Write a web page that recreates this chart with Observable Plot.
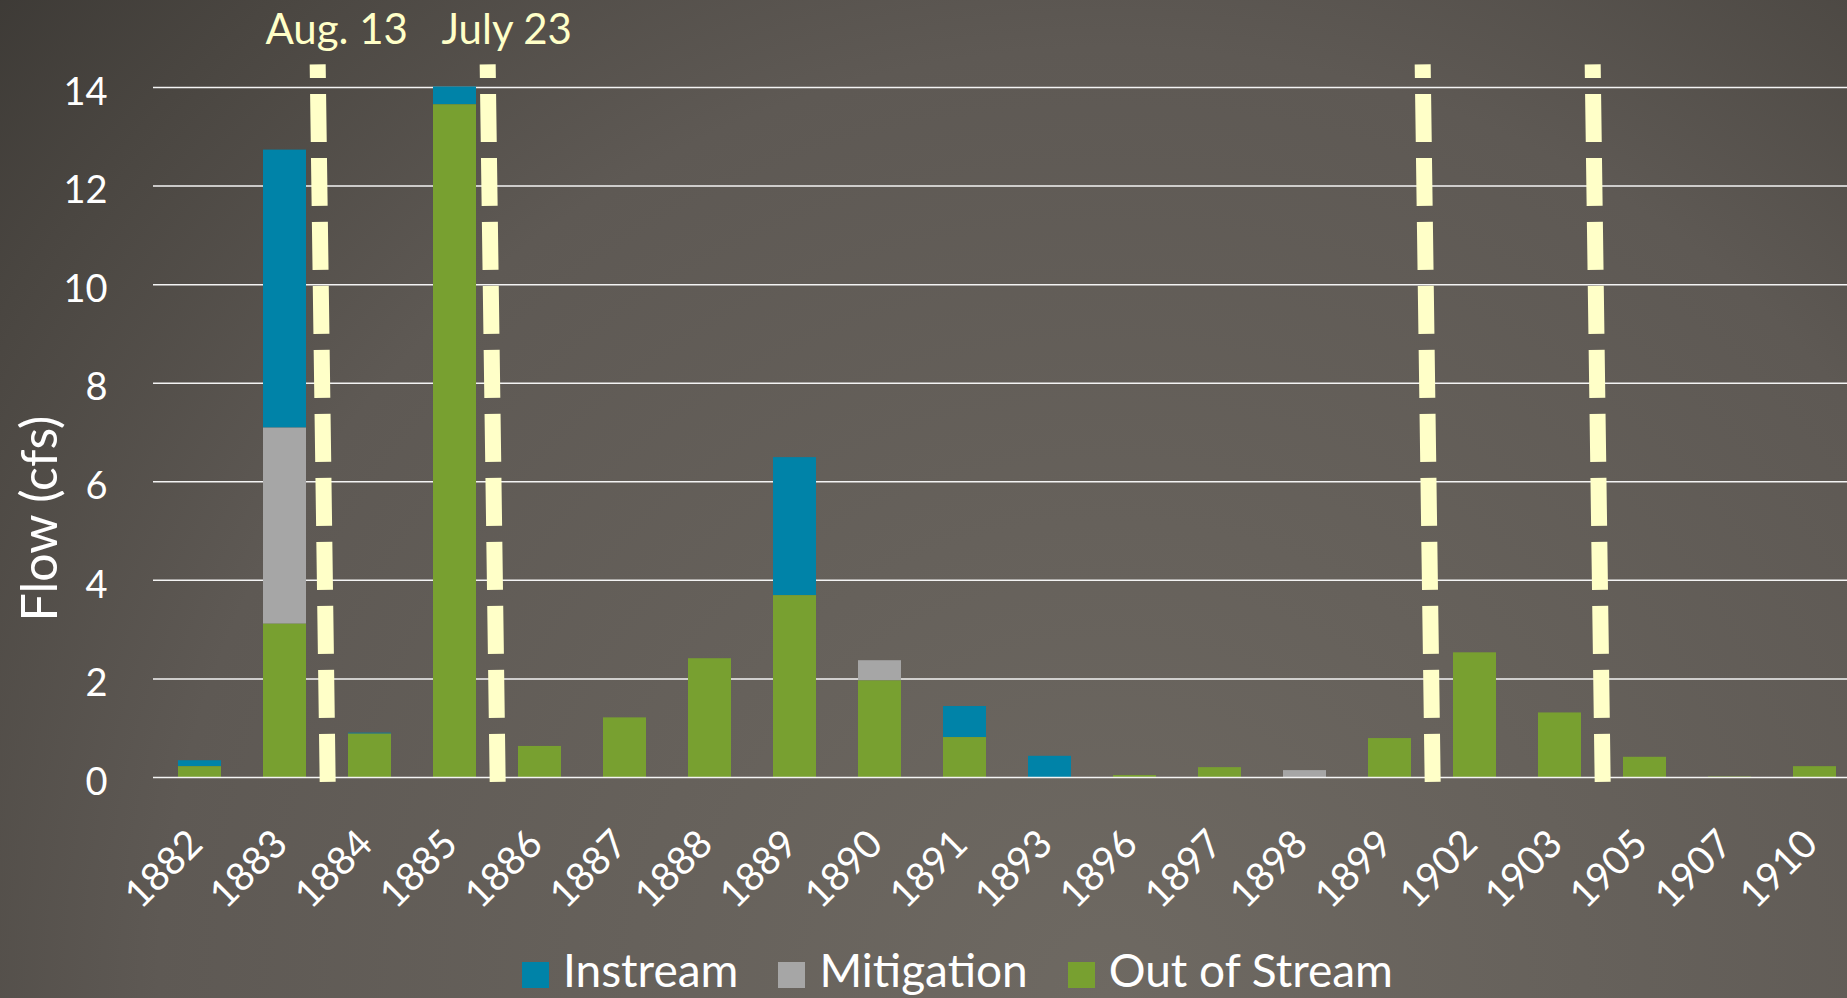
<!DOCTYPE html>
<html>
<head>
<meta charset="utf-8">
<script src="https://cdn.jsdelivr.net/npm/d3@7"></script>
<script src="https://cdn.jsdelivr.net/npm/@observablehq/plot@0.6"></script>
<style>
  html, body { margin: 0; padding: 0; width: 1847px; height: 998px; overflow: hidden; }
  body {
    font-family: Lato, "Open Sans", sans-serif;
    background: radial-gradient(circle at 60% 100%, #6e6962 0px, #5e5954 950px, #4a4641 1300px, #3c3935 1520px);
    position: relative;
  }
  #chart { position: absolute; left: 0; top: 0; width: 1847px; overflow: hidden; }
  #legend {
    position: absolute; left: 522px; top: 947px;
    display: flex; align-items: flex-start; gap: 40px;
    color: #ffffff; font-size: 46px; line-height: 1;
  }
  .item { display: flex; align-items: flex-start; }
  .sw { width: 27px; height: 26px; margin-top: 15px; margin-right: 14px; }
</style>
</head>
<body>
<div id="chart"></div>
<div id="legend"></div>
<script>
// ---- data ----
const years = ["1882","1883","1884","1885","1886","1887","1888","1889","1890","1891",
               "1893","1896","1897","1898","1899","1902","1903","1905","1907","1910"];
const outOfStream = [0.22, 3.11, 0.88, 13.65, 0.63, 1.21, 2.41, 3.69, 1.96, 0.81,
                     0, 0.04, 0.20, 0, 0.79, 2.53, 1.31, 0.41, 0.01, 0.22];
const mitigation  = [0, 3.98, 0, 0, 0, 0, 0, 0, 0.41, 0,
                     0, 0, 0, 0.14, 0, 0, 0, 0, 0, 0];
const instream    = [0.12, 5.64, 0.02, 0.36, 0, 0, 0, 2.80, 0, 0.63,
                     0.43, 0, 0, 0, 0, 0, 0, 0, 0, 0];
const seriesNames  = ["Instream", "Mitigation", "Out of Stream"];
const seriesColors = ["#0083a8", "#a6a6a6", "#78a030"];
const stackOrder   = ["Out of Stream", "Mitigation", "Instream"];
const yTicks = [0, 2, 4, 6, 8, 10, 12, 14];
const markerAfter  = ["1883", "1885", "1899", "1903"];
const markerLabels = ["Aug. 13", "July 23", "", ""];
const yLabel = "Flow (cfs)";

// ---- tables ----
const seriesValues = {"Instream": instream, "Mitigation": mitigation, "Out of Stream": outOfStream};
const rows = [];
years.forEach((yr, i) => {
  for (const s of seriesNames) rows.push({year: yr, series: s, value: seriesValues[s][i]});
});
const markers = markerAfter.map((yr, i) => ({year: yr, label: markerLabels[i]}));

// the slide's plot area runs slightly past the right edge of the window (negative right margin)
const W = 1847, H = 925;
const mL = 153, mR = -13, mT = 87, mB = 148;
const step = (W - mL - mR) / years.length;
const yellow = "#ffffc8";

const chart = Plot.plot({
  width: W, height: H,
  marginLeft: mL, marginRight: mR, marginTop: mT, marginBottom: mB,
  style: {background: "transparent", color: "#ffffff", fontFamily: "Lato, 'Open Sans', sans-serif", overflow: "hidden"},
  x: {domain: years, paddingInner: 0.5, paddingOuter: 0.25, align: 0.5},
  y: {domain: [0, 14]},
  color: {domain: seriesNames, range: seriesColors},
  marks: [
    Plot.ruleY(yTicks.filter(t => t > 0), {stroke: "#f4f4f4", strokeWidth: 1.5}),
    Plot.barY(rows, {x: "year", y: "value", fill: "series", order: stackOrder}),
    Plot.ruleY(yTicks.filter(t => t === 0), {stroke: "#f4f4f4", strokeWidth: 1.5}),
    Plot.ruleX(markers, {x: "year", y1: -0.1, y2: 14.46, dx: step / 2 - 5,
      stroke: yellow, strokeWidth: 16, strokeDasharray: "48,16"}),
    Plot.text(markers.filter(d => d.label), {x: "year", y: 15.15, text: "label",
      dx: step / 2 + 9, fill: yellow, fontSize: 42}),
    Plot.axisX({tickSize: 0, tickRotate: -45, tickPadding: 60, dx: -4, fontSize: 39, label: null}),
    Plot.axisY({ticks: yTicks, tickSize: 0, tickPadding: 46, fontSize: 38, dy: 5, label: null}),
    Plot.text([yLabel], {frameAnchor: "left", textAnchor: "middle", rotate: -90, dx: -113, dy: 86,
      fontSize: 50, fill: "#ffffff"})
  ]
});
document.getElementById("chart").appendChild(chart);

// slight lean of the dashed marker lines, as in the original slide; draw bottom-up
chart.querySelectorAll(`g[stroke="${yellow}"] line`).forEach(l => {
  const ya = +l.getAttribute("y1"), yb = +l.getAttribute("y2");
  const x = +l.getAttribute("x1");
  const bottom = Math.max(ya, yb), top = Math.min(ya, yb);
  l.setAttribute("x1", x + 5); l.setAttribute("y1", bottom);
  l.setAttribute("x2", x - 5); l.setAttribute("y2", top);
});

// ---- legend ----
const legend = document.getElementById("legend");
seriesNames.forEach((name, i) => {
  const item = document.createElement("div");
  item.className = "item";
  const sw = document.createElement("div");
  sw.className = "sw";
  sw.style.background = seriesColors[i];
  const t = document.createElement("span");
  t.textContent = name;
  item.appendChild(sw); item.appendChild(t);
  legend.appendChild(item);
});
</script>
</body>
</html>
